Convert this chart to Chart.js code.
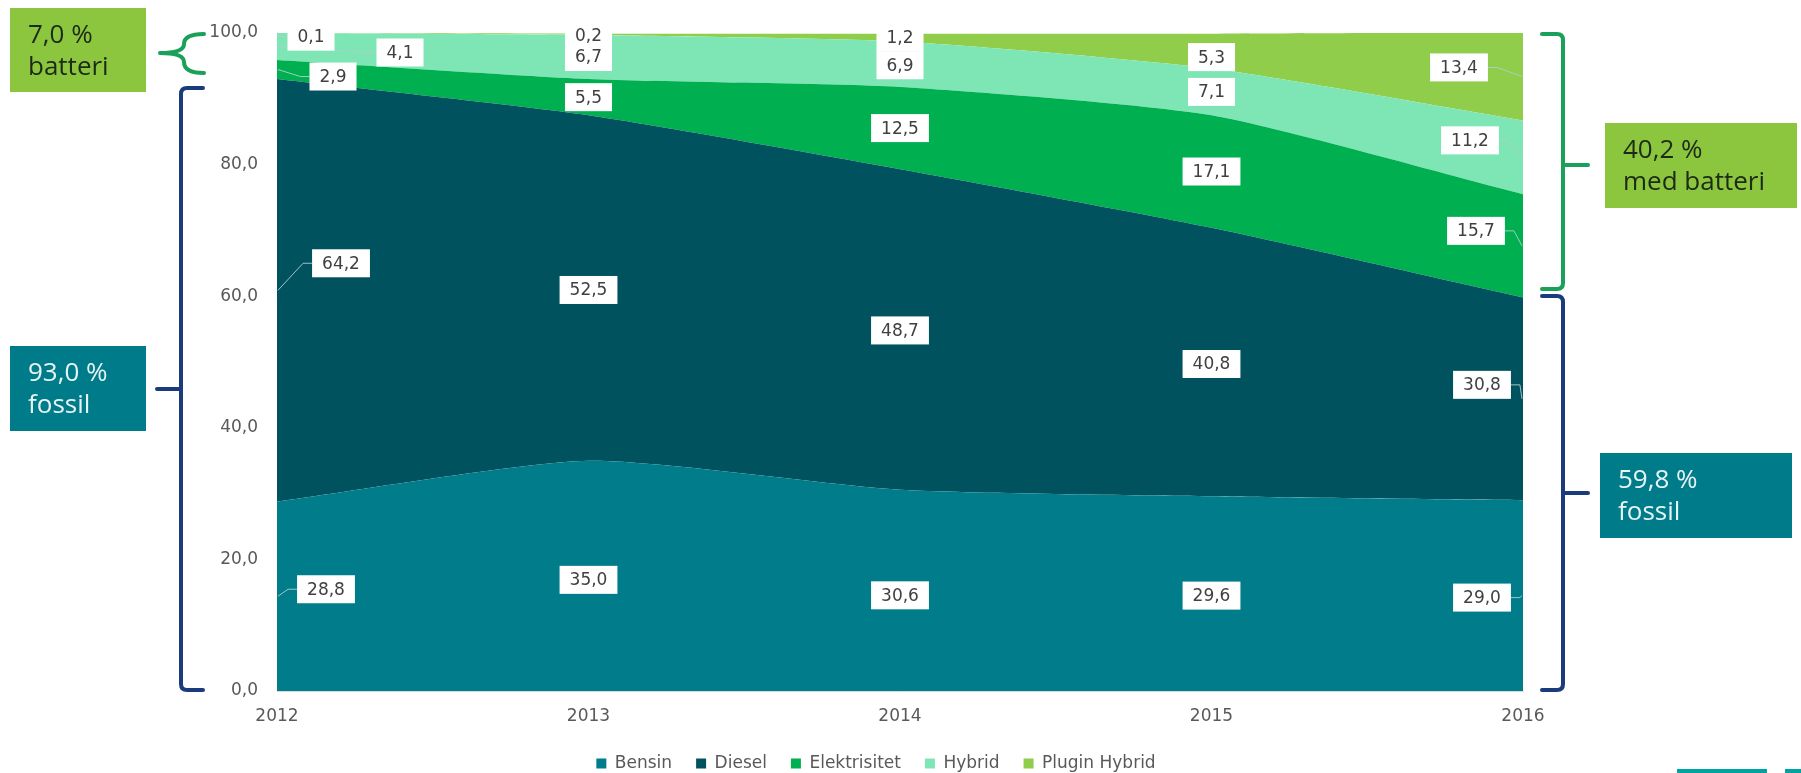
<!DOCTYPE html>
<html>
<head>
<meta charset="utf-8">
<script src="https://cdn.jsdelivr.net/npm/chart.js@4.4.1/dist/chart.umd.min.js"></script>
<style>
    html, body { margin: 0; padding: 0; background: #fff; }
</style>
</head>
<body>
<canvas id="drivstoffAndel" width="1801" height="773"></canvas>
<script>
// Data lest av figuren (andel nye personbiler, prosent)
const years = ["2012", "2013", "2014", "2015", "2016"];
const bensin = [28.8, 35.0, 30.6, 29.6, 29.0];
const diesel = [64.2, 52.5, 48.7, 40.8, 30.8];
const elektrisitet = [2.9, 5.5, 12.5, 17.1, 15.7];
const hybrid = [4.1, 6.7, 6.9, 7.1, 11.2];
const pluginHybrid = [0.1, 0.2, 1.2, 5.3, 13.4];
const seriesNames = ["Bensin", "Diesel", "Elektrisitet", "Hybrid", "Plugin Hybrid"];
const yTicks = [0, 20, 40, 60, 80, 100];

// Tekstboksene utenfor diagrammet
const batteriTekst2012 = ["7,0 %", "batteri"];
const fossilTekst2012 = ["93,0 %", "fossil"];
const batteriTekst2016 = ["40,2 %", "med batteri"];
const fossilTekst2016 = ["59,8 %", "fossil"];

const farger = ["#007c8a", "#00535e", "#00b050", "#7ee6b4", "#8fcd4b"];
const tekstFarge = "#595959";
const kommaTall = v => v.toFixed(1).replace(".", ",");

// Flytting av etikettene (px) i forhold til midten av hvert felt
const labelNudge = [
    [[49, -7], [0, 4], [0, 5], [0, 2], [-41, 2]],
    [[64, -27], [0, 2], [0, 1], [0, 2], [-41, -14]],
    [[56, 7], [0, 0], [0, 0], [0, 0], [-47, -15]],
    [[123, 6], [0, 0], [0, 1], [0, 0], [-53, -17]],
    [[34, 4], [0, 1], [0, 0], [0, 6], [-64, -9]]
];

const allSeries = [bensin, diesel, elektrisitet, hybrid, pluginHybrid];

const datasets = allSeries.map((values, i) => ({
    label: seriesNames[i],
    data: values,
    backgroundColor: farger[i],
    borderColor: farger[i],
    borderWidth: 0,
    pointRadius: 0,
    tension: 0.2,
    fill: i === 0 ? "origin" : "-1"
}));

// Verdietiketter med hvite bokser
const etiketter = {
    id: "etiketter",
    afterDatasetsDraw(chart) {
        const ctx = chart.ctx;
        const yScale = chart.scales.y;
        const area = chart.chartArea;
        const bokser = [];
        allSeries.forEach((values, i) => {
            const meta = chart.getDatasetMeta(i);
            const under = i > 0 ? chart.getDatasetMeta(i - 1) : null;
            values.forEach((v, j) => {
                const p = meta.data[j];
                const bunn = under ? under.data[j].y : yScale.getPixelForValue(0);
                const midt = (p.y + bunn) / 2;
                const [dx, dy] = labelNudge[i][j];
                bokser.push({ tekst: kommaTall(v), ax: p.x, ay: midt, x: p.x + dx, y: midt + dy, j });
            });
        });
        ctx.save();
        ctx.font = "17px 'DejaVu Sans'";
        // ledestreker for første og siste år
        ctx.strokeStyle = "rgba(175,205,205,0.9)";
        ctx.lineWidth = 1;
        bokser.forEach(b => {
            const w = ctx.measureText(b.tekst).width + 20;
            b.w = w;
            if (b.j === 0 || b.j === years.length - 1) {
                const kant = b.j === 0 ? b.x - w / 2 : b.x + w / 2;
                const knekk = b.j === 0 ? kant - 9 : kant + 9;
                ctx.beginPath();
                ctx.moveTo(b.j === 0 ? area.left + 1 : area.right - 1, b.ay);
                ctx.lineTo(knekk, b.y);
                ctx.lineTo(kant, b.y);
                ctx.stroke();
            }
        });
        ctx.fillStyle = "#ffffff";
        bokser.forEach(b => ctx.fillRect(b.x - b.w / 2, b.y - 14, b.w, 28));
        ctx.fillStyle = "#404040";
        ctx.textAlign = "center";
        ctx.textBaseline = "middle";
        bokser.forEach(b => ctx.fillText(b.tekst, b.x, b.y + 1));
        ctx.restore();
    }
};

function tekstBoks(ctx, x, y, w, h, fyll, farge, linjer) {
    ctx.fillStyle = fyll;
    ctx.fillRect(x, y, w, h);
    ctx.fillStyle = farge;
    ctx.font = "26px 'Open Sans'";
    ctx.textAlign = "left";
    ctx.textBaseline = "alphabetic";
    ctx.fillText(linjer[0], x + 18, y + 35);
    ctx.fillText(linjer[1], x + 18, y + 67);
}

function hakeParentes(ctx, x, y1, y2, hakeX, tuppX, tuppY, farge) {
    const r = 6;
    const s = hakeX > x ? 1 : -1;
    ctx.strokeStyle = farge;
    ctx.lineWidth = 4;
    ctx.lineCap = "round";
    ctx.beginPath();
    ctx.moveTo(hakeX, y1);
    ctx.lineTo(x + s * r, y1);
    ctx.quadraticCurveTo(x, y1, x, y1 + r);
    ctx.lineTo(x, y2 - r);
    ctx.quadraticCurveTo(x, y2, x + s * r, y2);
    ctx.lineTo(hakeX, y2);
    ctx.moveTo(x, tuppY);
    ctx.lineTo(tuppX, tuppY);
    ctx.stroke();
}

// Parenteser og tekstbokser rundt diagrammet
const merknader = {
    id: "merknader",
    afterDraw(chart) {
        const ctx = chart.ctx;
        const gronn = "#1ba05a";
        const bla = "#1b3c7c";
        ctx.save();
        // krøllparentes øverst til venstre
        ctx.strokeStyle = gronn;
        ctx.lineWidth = 4;
        ctx.lineCap = "round";
        ctx.beginPath();
        ctx.moveTo(204, 34);
        ctx.quadraticCurveTo(184, 34, 184, 44);
        ctx.quadraticCurveTo(184, 53, 160, 53);
        ctx.moveTo(160, 53);
        ctx.quadraticCurveTo(184, 53, 184, 62);
        ctx.quadraticCurveTo(184, 73, 204, 73);
        ctx.stroke();

        hakeParentes(ctx, 181, 88, 690, 203, 157, 389, bla);
        hakeParentes(ctx, 1563, 34, 289, 1542, 1588, 165, gronn);
        hakeParentes(ctx, 1563, 296, 690, 1542, 1588, 493, bla);

        tekstBoks(ctx, 10, 8, 136, 84, "#8cc63f", "#1c2a16", batteriTekst2012);
        tekstBoks(ctx, 10, 346, 136, 85, "#007b8a", "#e6f4f4", fossilTekst2012);
        tekstBoks(ctx, 1605, 123, 192, 85, "#8cc63f", "#1c2a16", batteriTekst2016);
        tekstBoks(ctx, 1600, 453, 192, 85, "#007b8a", "#e6f4f4", fossilTekst2016);

        // avkuttet logo nederst til høyre
        ctx.fillStyle = "#00a3a3";
        ctx.fillRect(1677, 769, 90, 4);
        ctx.fillRect(1785, 769, 16, 4);
        ctx.restore();
    }
};

// Fast høyde på forklaringen, og litt flytting av den
const forklaringPlass = {
    id: "forklaringPlass",
    beforeInit(chart) {
        const fit = chart.legend.fit;
        chart.legend.fit = function () {
            fit.bind(chart.legend)();
            this.height = 47;
        };
    },
    afterLayout(chart) {
        const lg = chart.legend;
        lg.left += 10;
        lg.right += 10;
        lg.top += 5;
        lg.bottom += 5;
    }
};

const ctx = document.getElementById("drivstoffAndel").getContext("2d");
new Chart(ctx, {
    type: "line",
    data: { labels: years, datasets: datasets },
    options: {
        responsive: false,
        animation: false,
        layout: { padding: { left: 209, right: 278, top: 33, bottom: 0 } },
        scales: {
            x: {
                offset: false,
                grid: { display: false, drawTicks: false },
                border: { display: true, color: "#d9d9d9", width: 1 },
                ticks: { color: tekstFarge, font: { family: "DejaVu Sans", size: 17 }, padding: 15, maxRotation: 0 },
                afterFit: scale => { scale.height = 35; }
            },
            y: {
                stacked: true,
                min: 0,
                max: 100,
                grid: { display: false, drawTicks: false },
                border: { display: true, color: "#d9d9d9", width: 1 },
                afterBuildTicks: scale => { scale.ticks = yTicks.map(v => ({ value: v })); },
                ticks: {
                    color: tekstFarge,
                    font: { family: "DejaVu Sans", size: 17 },
                    padding: 19,
                    callback: v => kommaTall(v)
                },
                afterFit: scale => { scale.width = 68; }
            }
        },
        plugins: {
            legend: {
                position: "bottom",
                labels: {
                    boxWidth: 10,
                    boxHeight: 10,
                    padding: 24,
                    color: tekstFarge,
                    font: { family: "DejaVu Sans", size: 17 }
                }
            },
            tooltip: { enabled: false }
        }
    },
    plugins: [etiketter, merknader, forklaringPlass]
});
</script>
</body>
</html>
